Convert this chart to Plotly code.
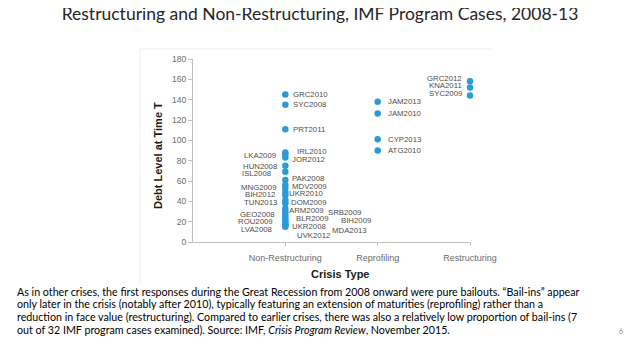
import plotly.graph_objects as go

# ---------------- data ----------------
categories = ["Non-Restructuring", "Reprofiling", "Restructuring"]

nonres_names = ["GRC2010", "SYC2008", "PRT2011", "IRL2010", "LKA2009", "JOR2012",
                "HUN2008", "ISL2008", "PAK2008", "MDV2009", "MNG2009", "UKR2010",
                "BIH2012", "TUN2013", "DOM2009", "ARM2009", "SRB2009", "GEO2008",
                "BLR2009", "BIH2009", "ROU2009", "UKR2008", "MDA2013", "LVA2008",
                "UVK2012"]
nonres_values = [145, 135, 111, 88, 86, 83,
                 75, 69, 61, 56, 53, 49,
                 46, 41, 38, 33, 30, 27,
                 24, 22, 20, 18, 17, 16,
                 15]

reprof_names = ["JAM2013", "JAM2010", "CYP2013", "ATG2010"]
reprof_values = [138, 126.5, 101, 90]

restr_names = ["GRC2012", "KNA2011", "SYC2009"]
restr_values = [158, 152, 144]

y_tick_values = [0, 20, 40, 60, 80, 100, 120, 140, 160, 180]

# ---------------- label placement (style, screen pixels) ----------------
# name -> (side, x shift px from the dot, label centre y in px or None = at the dot)
label_layout = {
    "GRC2010": ("R", 6, None), "SYC2008": ("R", 6, None), "PRT2011": ("R", 6, None),
    "IRL2010": ("R", 10, 151.5), "LKA2009": ("L", -7, 155), "JOR2012": ("R", 5, 159),
    "HUN2008": ("L", -6, 166), "ISL2008": ("L", -12, 173.3), "PAK2008": ("R", 5, 179),
    "MDV2009": ("R", 5, 186), "MNG2009": ("L", -6, 187), "UKR2010": ("R", 2, 193.3),
    "BIH2012": ("L", -8, 194.5), "TUN2013": ("L", -6, 202), "DOM2009": ("R", 4, 202.3),
    "ARM2009": ("R", 2, 210.3), "SRB2009": ("R", 41, 212.7), "GEO2008": ("L", -8, 214),
    "BLR2009": ("R", 9, 218.5), "BIH2009": ("R", 54, 221), "ROU2009": ("L", -10, 221.5),
    "UKR2008": ("R", 5, 226.3), "MDA2013": ("R", 45, 230), "LVA2008": ("L", -11, 229.5),
    "UVK2012": ("R", 10, 235),
    "JAM2013": ("R", 8, None), "JAM2010": ("R", 8, None), "CYP2013": ("R", 8, None),
    "ATG2010": ("R", 8, None),
    "GRC2012": ("L", -6, 78), "KNA2011": ("L", -6, 85), "SYC2009": ("L", -6, 93),
}

# ---------------- geometry helpers ----------------
# The page body has an 8px default margin, so the figure is drawn 8px in and
# shifted coordinates are used throughout.
OFF = 8
W_FIG, H_FIG = 638 - OFF, 359 - OFF
L, R, T, B = 193 - OFF, 470 - OFF, 59 - OFF, 242 - OFF
PW, PH = R - L, B - T
YMAX = 180


def px_x(px):
    return (px - OFF - L) / PW


def px_y(py):
    return (B - (py - OFF)) / PH


def value_to_py(v):
    # screen pixel y (reference coordinates) of a data value
    return (B + OFF) - v * PH / YMAX


FONT_NARROW = "Liberation Sans Narrow, Arial Narrow, Liberation Sans, sans-serif"
FONT_TEXT = "Lato, Liberation Sans, sans-serif"
DOT = "#2b9bd6"

fig = go.Figure()

groups = [(nonres_names, nonres_values), (reprof_names, reprof_values), (restr_names, restr_values)]
annotations = []
for i, (names, vals) in enumerate(groups):
    xpos = i + 1
    fig.add_trace(go.Scatter(
        x=[xpos] * len(vals), y=vals, mode="markers", name=categories[i],
        marker=dict(color=DOT, size=6.5, line=dict(width=0)),
        cliponaxis=False, showlegend=False, text=names,
        hovertemplate="%{text}: %{y}<extra></extra>",
    ))
    for n, v in zip(names, vals):
        side, dx, lpy = label_layout[n]
        dy = 0 if lpy is None else value_to_py(v) - lpy
        annotations.append(dict(
            x=xpos, y=v, xref="x", yref="y", text=n, showarrow=False,
            xanchor="left" if side == "R" else "right", yanchor="middle",
            xshift=dx, yshift=dy,
            font=dict(family=FONT_NARROW, size=7.8, color="#4d4d4d"),
        ))

# axis titles
annotations.append(dict(
    x=px_x(158), y=px_y(156), xref="paper", yref="paper", text="<b>Debt Level at Time T</b>",
    textangle=-90, showarrow=False, xanchor="center", yanchor="middle",
    font=dict(family=FONT_NARROW, size=11, color="#1a1a1a"),
))
annotations.append(dict(
    x=px_x(340), y=px_y(274), xref="paper", yref="paper", text="<b>Crisis Type</b>",
    showarrow=False, xanchor="center", yanchor="middle",
    font=dict(family=FONT_NARROW, size=11, color="#1a1a1a"),
))

# caption
caption_lines = [
    "As in other crises, the first responses during the Great Recession from 2008 onward were pure bailouts. \u201cBail-ins\u201d appear",
    "only later in the crisis (notably after 2010), typically featuring an extension of maturities (reprofiling) rather than a",
    "reduction in face value (restructuring). Compared to earlier crises, there was also a relatively low proportion of bail-ins (7",
    "out of 32 IMF program cases examined). Source: IMF, <i>Crisis Program Review</i>, November 2015.",
]
caption_y = [291, 303.5, 316, 329]
for line, ypx in zip(caption_lines, caption_y):
    annotations.append(dict(
        x=px_x(15), y=px_y(ypx), xref="paper", yref="paper", text=line,
        showarrow=False, xanchor="left", yanchor="middle",
        font=dict(family=FONT_TEXT, size=10.7, color="#000000"),
    ))
annotations.append(dict(
    x=px_x(621), y=px_y(331), xref="paper", yref="paper", text="6",
    showarrow=False, xanchor="center", yanchor="middle",
    font=dict(family=FONT_TEXT, size=7, color="#8c8c8c"),
))

shapes = [
    dict(type="line", xref="paper", yref="paper", x0=px_x(140), x1=px_x(492),
         y0=px_y(49), y1=px_y(49), line=dict(color="#ededed", width=1)),
    dict(type="line", xref="paper", yref="paper", x0=px_x(140), x1=px_x(140),
         y0=px_y(49), y1=px_y(284), line=dict(color="#ededed", width=1)),
]

fig.update_layout(
    width=W_FIG, height=H_FIG, autosize=False,
    margin=dict(l=L, r=W_FIG - R, t=T, b=H_FIG - B, pad=0),
    paper_bgcolor="white", plot_bgcolor="white",
    title=dict(text="Restructuring and Non-Restructuring, IMF Program Cases, 2008-13",
               x=(320 - OFF) / W_FIG, xanchor="center", y=1, yanchor="top",
               font=dict(family=FONT_TEXT, size=17.5, color="#262626")),
    xaxis=dict(range=[0, 3], tickmode="array", tickvals=[1, 2, 3], ticktext=categories,
               showgrid=False, zeroline=False, showline=True, linecolor="#c0c0c0", linewidth=1,
               ticks="outside", ticklen=3, tickcolor="#c0c0c0", ticklabelstandoff=4,
               tickfont=dict(family=FONT_NARROW, size=9, color="#6b6b6b")),
    yaxis=dict(range=[0, YMAX], tickmode="array", tickvals=y_tick_values,
               showgrid=False, zeroline=False, showline=True, linecolor="#c0c0c0", linewidth=1,
               ticks="outside", ticklen=4, tickcolor="#c0c0c0",
               tickfont=dict(family=FONT_NARROW, size=8.5, color="#6b6b6b")),
    annotations=annotations, shapes=shapes,
    showlegend=False,
)

fig.write_html("out.html")
